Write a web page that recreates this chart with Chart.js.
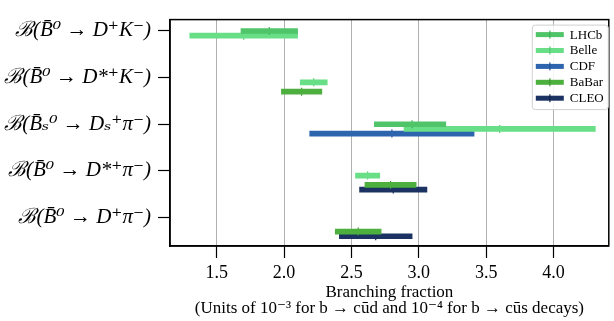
<!DOCTYPE html>
<html>
<head>
<meta charset="utf-8">
<script src="https://cdn.jsdelivr.net/npm/chart.js@4.4.0/dist/chart.umd.min.js"></script>
<style>
  html, body { margin: 0; padding: 0; background: #fff; }
  #wrap { width: 614px; height: 321px; position: relative; }
</style>
</head>
<body>
<div id="wrap"><canvas id="bfChart"></canvas></div>
<script>
// decay modes, top to bottom
var decays = [
  "ℬ(B̄⁰ → D⁺K⁻)",
  "ℬ(B̄⁰ → D*⁺K⁻)",
  "ℬ(B̄ₛ⁰ → Dₛ⁺π⁻)",
  "ℬ(B̄⁰ → D*⁺π⁻)",
  "ℬ(B̄⁰ → D⁺π⁻)"
];
var experiments = ["LHCb", "Belle", "CDF", "BaBar", "CLEO"];
var xTicks = [1.5, 2.0, 2.5, 3.0, 3.5, 4.0];

// central value, lower and upper edge of each measurement (null = not measured)
var lhcbCentral = [1.89, null, 2.95, null, null];
var lhcbLow     = [1.68, null, 2.67, null, null];
var lhcbHigh    = [2.10, null, 3.20, null, null];

var belleCentral = [1.70, 2.22, 3.60, 2.62, null];
var belleLow     = [1.30, 2.12, 2.89, 2.53, null];
var belleHigh    = [2.10, 2.32, 4.31, 2.71, null];

var cdfCentral = [null, null, 2.80, null, null];
var cdfLow     = [null, null, 2.19, null, null];
var cdfHigh    = [null, null, 3.41, null, null];

var babarCentral = [null, 2.13, null, 2.79, 2.55];
var babarLow     = [null, 1.98, null, 2.60, 2.38];
var babarHigh    = [null, 2.28, null, 2.98, 2.72];

var cleoCentral = [null, null, null, 2.81, 2.68];
var cleoLow     = [null, null, null, 2.56, 2.41];
var cleoHigh    = [null, null, null, 3.06, 2.95];

var colors = ["#50c468", "#68de86", "#2c64ae", "#4caf3e", "#1b3263"];
var tickColors = ["#3fae55", "#52c872", "#1f4f90", "#3a9430", "#0f2248"];
// vertical shift of each experiment under its decay label (in category units)
var rowShift = [0, 0.1, 0.2, 0.3, 0.4];

var centrals = [lhcbCentral, belleCentral, cdfCentral, babarCentral, cleoCentral];
var lows = [lhcbLow, belleLow, cdfLow, babarLow, cleoLow];
var highs = [lhcbHigh, belleHigh, cdfHigh, babarHigh, cleoHigh];

var datasets = [];
experiments.forEach(function (name, k) {
  var bars = [], marks = [];
  decays.forEach(function (d, i) {
    if (centrals[k][i] === null) return;
    bars.push({ y: i + rowShift[k], x: [lows[k][i], highs[k][i]] });
    marks.push({ y: i + rowShift[k], x: centrals[k][i] });
  });
  datasets.push({
    type: "bar",
    label: name,
    data: bars,
    backgroundColor: colors[k],
    borderWidth: 0,
    barThickness: 5,
    grouped: false,
    inLegend: true
  });
  datasets.push({
    type: "scatter",
    label: name + " central",
    data: marks,
    pointStyle: "line",
    rotation: 90,
    radius: 4,
    borderWidth: 1.2,
    borderColor: tickColors[k],
    backgroundColor: tickColors[k]
  });
});

var serif = "'Liberation Serif', 'DejaVu Serif', serif";

var framePlugin = {
  id: "frame",
  afterDraw: function (chart) {
    var a = chart.chartArea, ctx = chart.ctx;
    ctx.save();
    ctx.strokeStyle = "#000";
    ctx.lineWidth = 1.5;
    ctx.strokeRect(a.left, a.top, a.right - a.left, a.bottom - a.top);
    ctx.restore();

    // legend box in the upper right corner
    var items = chart.data.datasets.filter(function (d) { return d.inLegend; });
    var right = a.right - 1, top = a.top + 5, w = 76, rowH = 15.9;
    var left = right - w, h = items.length * rowH + 5;
    ctx.save();
    ctx.fillStyle = "rgba(255,255,255,0.85)";
    ctx.strokeStyle = "#d0d0d0";
    ctx.lineWidth = 1;
    ctx.beginPath();
    ctx.roundRect(left + 0.5, top + 0.5, w, h, 3);
    ctx.fill();
    ctx.stroke();
    ctx.font = "13px " + serif;
    ctx.textBaseline = "middle";
    items.forEach(function (d, k) {
      var cy = top + 10 + k * rowH;
      ctx.fillStyle = d.backgroundColor;
      ctx.fillRect(left + 4, cy - 2.5, 28, 5);
      ctx.fillStyle = tickColors[k];
      ctx.fillRect(left + 17.5, cy - 4, 1.2, 8);
      ctx.fillStyle = "#000";
      ctx.fillText(d.label, left + 38, cy + 0.5);
    });
    ctx.restore();
  }
};

new Chart(document.getElementById("bfChart"), {
  type: "bar",
  data: { datasets: datasets },
  plugins: [framePlugin],
  options: {
    indexAxis: "y",
    animation: false,
    responsive: true,
    maintainAspectRatio: false,
    layout: { padding: { top: 7, right: 1, left: 0, bottom: 0 } },
    plugins: {
      legend: { display: false },
      tooltip: { enabled: false }
    },
    scales: {
      x: {
        type: "linear",
        position: "bottom",
        bounds: "data",
        offset: false,
        min: 1.153,
        max: 4.41,
        afterBuildTicks: function (s) { s.ticks = xTicks.map(function (v) { return { value: v }; }); },
        afterFit: function (s) { s.height = 75; },
        grid: { offset: false, color: "#b0b0b0", lineWidth: 1, tickColor: "#000", tickLength: 12, tickWidth: 1.2 },
        border: { color: "#000", width: 1.5 },
        ticks: {
          color: "#000",
          padding: 4,
          font: { family: serif, size: 18 },
          callback: function (v) { return Number(v).toFixed(1); }
        },
        title: {
          display: true,
          text: ["Branching fraction", "(Units of 10⁻³ for b → cūd and 10⁻⁴ for b → cūs decays)"],
          color: "#000",
          font: { family: serif, size: 17, lineHeight: 0.92 },
          padding: { top: 0, bottom: 5 }
        }
      },
      y: {
        type: "linear",
        position: "left",
        reverse: true,
        bounds: "data",
        offset: false,
        min: -0.244,
        max: 4.609,
        afterBuildTicks: function (s) { s.ticks = decays.map(function (d, i) { return { value: i }; }); },
        afterFit: function (s) { s.width = 170; },
        grid: { offset: false, drawOnChartArea: false, tickColor: "#000", tickLength: 12, tickWidth: 1.2 },
        border: { color: "#000", width: 1.5 },
        ticks: {
          color: "#000",
          padding: 7,
          font: { family: serif, size: 21, style: "italic" },
          callback: function (v) { return decays[Math.round(v)]; }
        }
      }
    }
  }
});
</script>
</body>
</html>
